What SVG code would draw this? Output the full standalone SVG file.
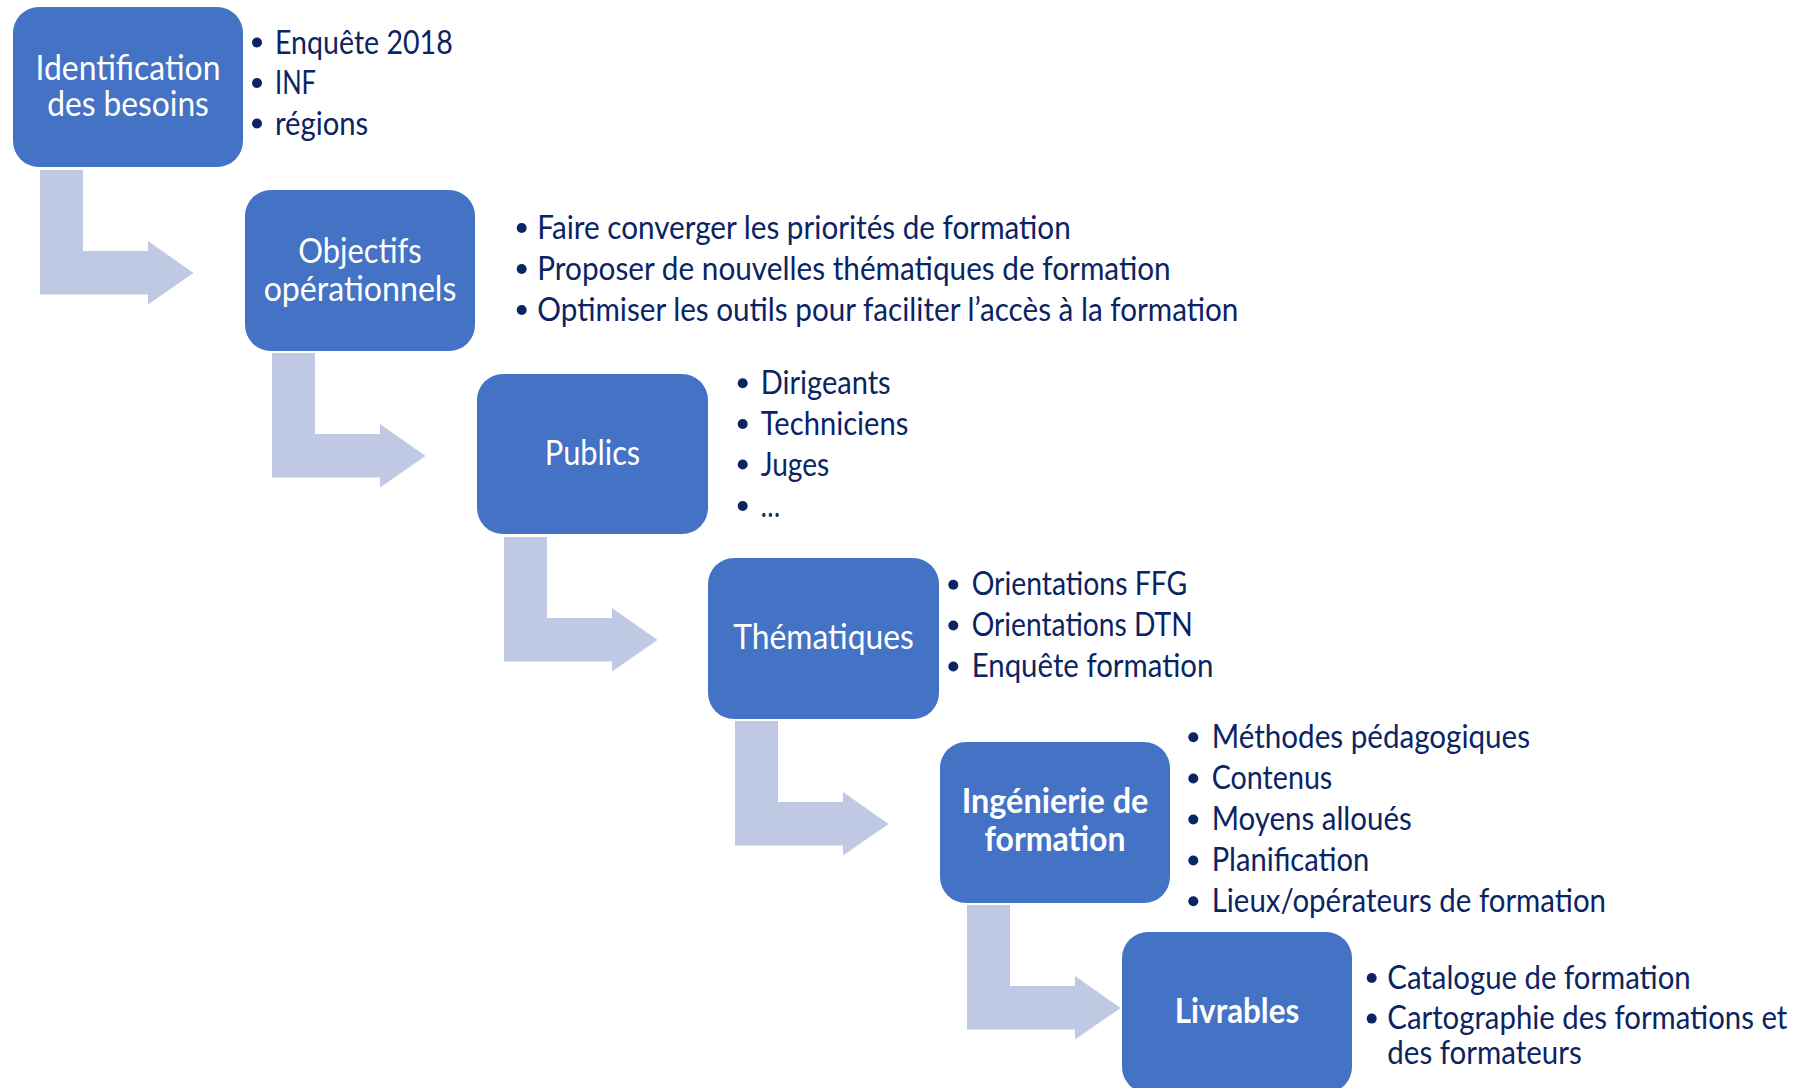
<svg xmlns="http://www.w3.org/2000/svg" xmlns:xlink="http://www.w3.org/1999/xlink" width="1795" height="1088" viewBox="0 0 1795 1088">
<style>
.box{fill:#4472C4;}
.arr{fill:#BFC9E3;}
.bt{font-family:Lato,"Liberation Sans",sans-serif;font-size:34px;fill:#FFFFFF;text-anchor:middle;}
.bold{font-weight:bold;}
.li{font-family:Lato,"Liberation Sans",sans-serif;font-size:32px;fill:#0B2463;}
.dot{fill:#0B2463;}
</style>
<defs>
<path id="bend" d="M27,163 H70 V244 H135 V234 L180.5,266 L135,297.5 V287.5 H27 Z"/>
</defs>
<rect width="1795" height="1088" fill="#FFFFFF"/>
<g id="connectors" class="arr">
<use xlink:href="#bend" href="#bend" x="13" y="7"/>
<use xlink:href="#bend" href="#bend" x="245" y="190"/>
<use xlink:href="#bend" href="#bend" x="477" y="374"/>
<use xlink:href="#bend" href="#bend" x="708" y="558"/>
<use xlink:href="#bend" href="#bend" x="940" y="742"/>
</g>
<g id="node-identification">
<rect class="box" x="13" y="7" width="230" height="160" rx="26"/>
<text class="bt" x="128" y="79.5" textLength="185" lengthAdjust="spacingAndGlyphs">Identification</text>
<text class="bt" x="128" y="116.2" textLength="161.7" lengthAdjust="spacingAndGlyphs">des besoins</text>
<circle class="dot" cx="257" cy="42.5" r="5"/>
<text class="li" x="275" y="53.5" textLength="177.7" lengthAdjust="spacingAndGlyphs">Enquête 2018</text>
<circle class="dot" cx="257" cy="83" r="5"/>
<text class="li" x="275" y="94" textLength="41" lengthAdjust="spacingAndGlyphs">INF</text>
<circle class="dot" cx="257" cy="123.5" r="5"/>
<text class="li" x="275" y="134.5" textLength="93.3" lengthAdjust="spacingAndGlyphs">régions</text>
</g>
<g id="node-objectifs">
<rect class="box" x="245" y="190" width="230" height="161" rx="26"/>
<text class="bt" x="360" y="262.9" textLength="123.4" lengthAdjust="spacingAndGlyphs">Objectifs</text>
<text class="bt" x="360" y="300.5" textLength="192.7" lengthAdjust="spacingAndGlyphs">opérationnels</text>
<circle class="dot" cx="521.7" cy="228" r="5"/>
<text class="li" x="537.3" y="238.7" textLength="533.4" lengthAdjust="spacingAndGlyphs">Faire converger les priorités de formation</text>
<circle class="dot" cx="521.7" cy="269" r="5"/>
<text class="li" x="537.3" y="280" textLength="633.4" lengthAdjust="spacingAndGlyphs">Proposer de nouvelles thématiques de formation</text>
<circle class="dot" cx="521.7" cy="310" r="5"/>
<text class="li" x="537.3" y="321" textLength="701" lengthAdjust="spacingAndGlyphs">Optimiser les outils pour faciliter l’accès à la formation</text>
</g>
<g id="node-publics">
<rect class="box" x="477" y="374" width="231" height="160" rx="26"/>
<text class="bt" x="592.5" y="464.5" textLength="95.4" lengthAdjust="spacingAndGlyphs">Publics</text>
<circle class="dot" cx="742.7" cy="383.3" r="5"/>
<text class="li" x="760.7" y="394.3" textLength="130" lengthAdjust="spacingAndGlyphs">Dirigeants</text>
<circle class="dot" cx="742.7" cy="424" r="5"/>
<text class="li" x="760.7" y="435" textLength="147.6" lengthAdjust="spacingAndGlyphs">Techniciens</text>
<circle class="dot" cx="742.7" cy="464.5" r="5"/>
<text class="li" x="760.7" y="475.5" textLength="68.6" lengthAdjust="spacingAndGlyphs">Juges</text>
<circle class="dot" cx="742.7" cy="506" r="5"/>
<text class="li" x="760.7" y="517" textLength="19.3" lengthAdjust="spacingAndGlyphs">…</text>
</g>
<g id="node-thematiques">
<rect class="box" x="708" y="558" width="231" height="161" rx="26"/>
<text class="bt" x="823.5" y="648.5" textLength="180.6" lengthAdjust="spacingAndGlyphs">Thématiques</text>
<circle class="dot" cx="953.3" cy="584.8" r="5"/>
<text class="li" x="971.7" y="595.3" textLength="215.6" lengthAdjust="spacingAndGlyphs">Orientations FFG</text>
<circle class="dot" cx="953.3" cy="625.5" r="5"/>
<text class="li" x="971.7" y="636" textLength="221" lengthAdjust="spacingAndGlyphs">Orientations DTN</text>
<circle class="dot" cx="953.3" cy="666.5" r="5"/>
<text class="li" x="971.7" y="677" textLength="241.6" lengthAdjust="spacingAndGlyphs">Enquête formation</text>
</g>
<g id="node-ingenierie">
<rect class="box" x="940" y="742" width="230" height="161" rx="26"/>
<text class="bt bold" x="1055" y="812.9" textLength="186.7" lengthAdjust="spacingAndGlyphs">Ingénierie de</text>
<text class="bt bold" x="1055" y="851.2" textLength="141" lengthAdjust="spacingAndGlyphs">formation</text>
<circle class="dot" cx="1193.3" cy="737.3" r="5"/>
<text class="li" x="1211.7" y="748" textLength="318.3" lengthAdjust="spacingAndGlyphs">Méthodes pédagogiques</text>
<circle class="dot" cx="1193.3" cy="778.5" r="5"/>
<text class="li" x="1211.7" y="789.3" textLength="120.6" lengthAdjust="spacingAndGlyphs">Contenus</text>
<circle class="dot" cx="1193.3" cy="819.5" r="5"/>
<text class="li" x="1211.7" y="830.3" textLength="200" lengthAdjust="spacingAndGlyphs">Moyens alloués</text>
<circle class="dot" cx="1193.3" cy="860.5" r="5"/>
<text class="li" x="1211.7" y="871.3" textLength="157.6" lengthAdjust="spacingAndGlyphs">Planification</text>
<circle class="dot" cx="1193.3" cy="901.2" r="5"/>
<text class="li" x="1211.7" y="912" textLength="394.3" lengthAdjust="spacingAndGlyphs">Lieux/opérateurs de formation</text>
</g>
<g id="node-livrables">
<rect class="box" x="1122" y="932" width="230" height="161" rx="26"/>
<text class="bt bold" x="1237" y="1022.9" textLength="124.4" lengthAdjust="spacingAndGlyphs">Livrables</text>
<circle class="dot" cx="1371.7" cy="978" r="5"/>
<text class="li" x="1387.3" y="988.7" textLength="303.4" lengthAdjust="spacingAndGlyphs">Catalogue de formation</text>
<circle class="dot" cx="1371.7" cy="1018.6" r="5"/>
<text class="li" x="1387.3" y="1029.3" textLength="400" lengthAdjust="spacingAndGlyphs">Cartographie des formations et</text>
<text class="li" x="1387.3" y="1063.7" textLength="194.4" lengthAdjust="spacingAndGlyphs">des formateurs</text>
</g>
</svg>
